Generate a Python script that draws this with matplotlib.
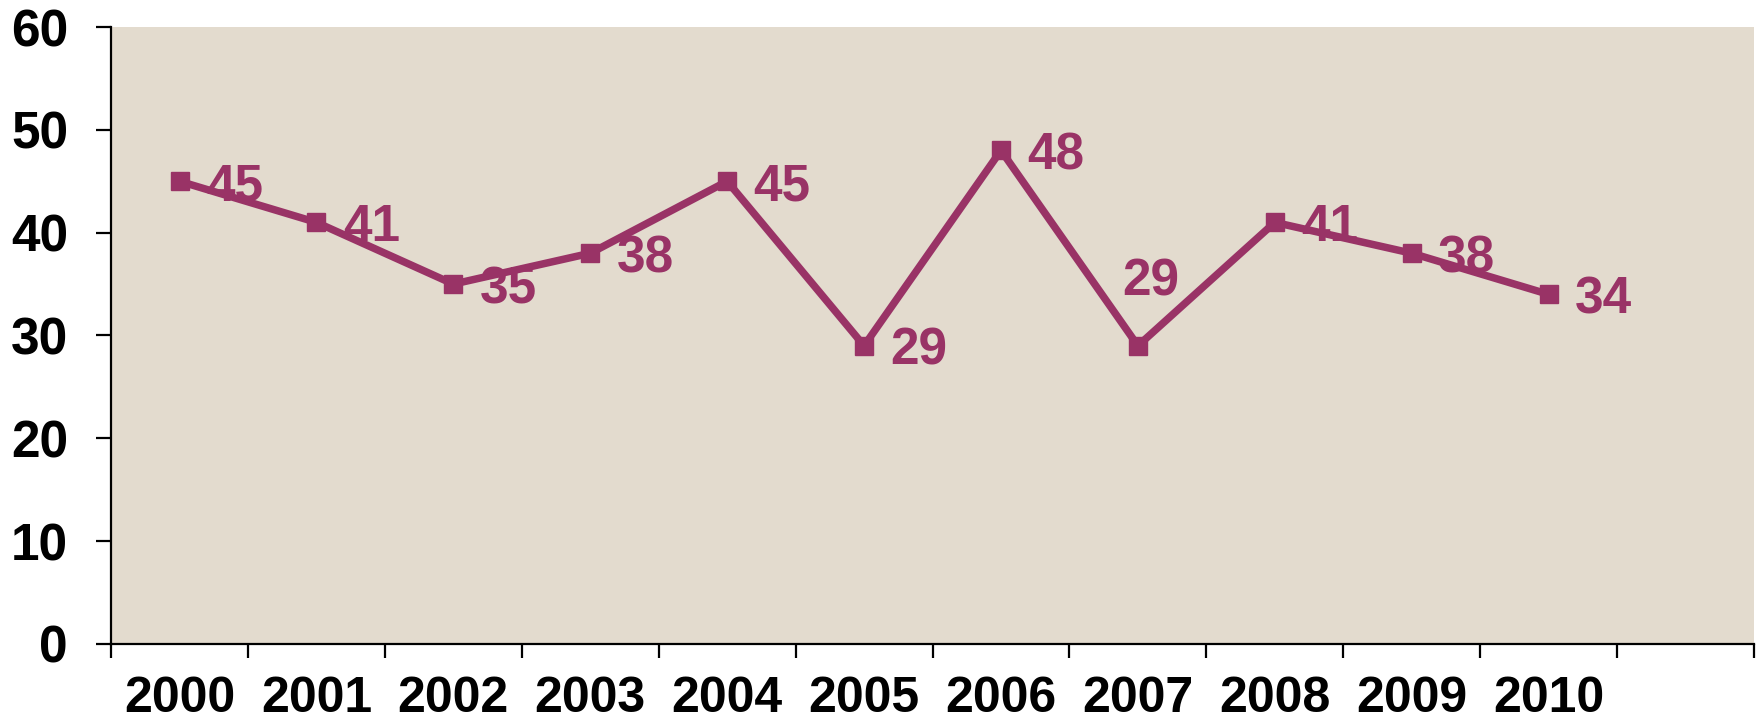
import matplotlib
matplotlib.use("Agg")
import matplotlib.pyplot as plt
import numpy as np

plt.rcParams['font.family'] = ['Liberation Sans', 'DejaVu Sans']

years = ['2000', '2001', '2002', '2003', '2004', '2005',
         '2006', '2007', '2008', '2009', '2010']
values = [45, 41, 35, 38, 45, 29, 48, 29, 41, 38, 34]
# label offsets in points (dx, dy); 2007 label sits above its point
label_offsets = [(19, -4)] * 11
label_offsets[7] = (-11, 46)

line_color = '#993366'
bg_color = '#E3DBCE'

fig = plt.figure(figsize=(17.6, 7.28), dpi=100)
ax = fig.add_axes([0.0631, 0.1154, 0.9335, 0.8475])
ax.set_facecolor(bg_color)

x = np.arange(len(years))
ax.plot(x, values, color=line_color, linewidth=5.4, marker='s',
        markersize=12.5, markerfacecolor=line_color, markeredgecolor=line_color,
        solid_joinstyle='miter', zorder=3)

for xi, v, (dx, dy) in zip(x, values, label_offsets):
    ax.annotate(str(v), (xi, v), xytext=(dx, dy), textcoords='offset points',
                ha='left', va='center', fontsize=37, fontweight='bold',
                color=line_color, zorder=4)

ax.set_xlim(-0.5, 11.5)
ax.set_ylim(0, 60)
ax.set_yticks(range(0, 61, 10))
ax.set_xticks(x)
ax.set_xticklabels(years)
ax.set_xticks(np.arange(-0.5, 12, 1), minor=True)

ax.tick_params(axis='y', direction='out', length=11, width=1.6, pad=20,
               labelsize=37)
ax.tick_params(axis='x', which='major', length=0, pad=23, labelsize=36)
ax.tick_params(axis='x', which='minor', direction='out', length=10, width=1.6)
for lab in ax.get_xticklabels() + ax.get_yticklabels():
    lab.set_fontweight('bold')

for side in ['top', 'right']:
    ax.spines[side].set_visible(False)
for side in ['left', 'bottom']:
    ax.spines[side].set_linewidth(1.6)

fig.savefig('out.png', dpi=100)
